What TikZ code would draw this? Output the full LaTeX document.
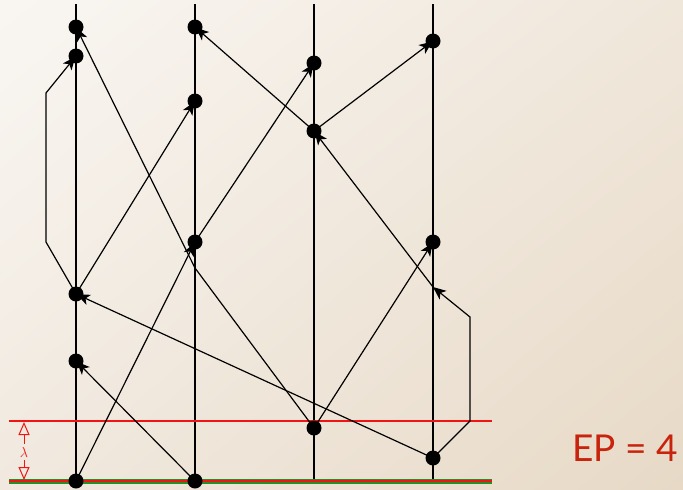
\documentclass[tikz,border=0pt]{standalone}
\usepackage{fontspec}
\newfontfamily\epfont{Lato}
\usetikzlibrary{arrows.meta,shadings}
\definecolor{bgUL}{RGB}{249,246,242}
\definecolor{bgUR}{RGB}{240,231,219}
\definecolor{bgLL}{RGB}{241,233,223}
\definecolor{bgLR}{RGB}{231,217,198}
\definecolor{eptext}{RGB}{200,35,12}
\definecolor{cutred}{RGB}{240,20,20}
\definecolor{cutgreen}{RGB}{40,140,40}
\begin{document}
\begin{tikzpicture}[x=1pt,y=-1pt,
  proc/.style={line width=1.3pt,black},
  msg/.style={line width=1.2pt,black,-{Stealth[length=13pt,width=11pt,inset=3.5pt]},shorten >=1pt},
  dot/.style={circle,fill=black,inner sep=0pt,minimum size=15pt},
  cutline/.style={line width=1.2pt,cutred},
  lamarrow/.style={line width=1pt,cutred,-{Triangle[open,length=13pt,width=11pt]}}]
\shade[upper left=bgUL,upper right=bgUR,lower left=bgLL,lower right=bgLR] (0,0) rectangle (683,490);
\useasboundingbox (0,0) rectangle (683,490);
% process lines
\foreach \n/\x in {p1/76,p2/195,p3/314,p4/433}{
  \coordinate (\n t) at (\x,4);
  \coordinate (\n b) at (\x,481);
  \draw[proc] (\n t) -- (\n b);
}
% cut lines
\coordinate (cl) at (9,421);
\coordinate (cr) at (492,421);
\coordinate (gl) at (9,481);
\coordinate (gr) at (492,481);
\draw[cutline] (cl) -- (cr);
\draw[line width=5pt,cutgreen] (gl) -- (gr);
\draw[line width=2.2pt,cutred] (gl) -- (gr);
% lambda marker
\node[text=cutred,inner sep=0pt,font=\fontsize{15}{15}\selectfont] (lam) at (24,452) {$\lambda$};
\coordinate (lamtop) at (24,422);
\coordinate (lambot) at (24,480);
\draw[lamarrow] (lam.north) ++(0,-3) coordinate (lamn) -- (lamtop);
\draw[lamarrow] (lam.south) ++(0,3) coordinate (lams) -- (lambot);
% events
\node[dot] (a1) at (76,27) {};
\node[dot] (a2) at (76,56) {};
\node[dot] (a3) at (76,294) {};
\node[dot] (a4) at (76,361) {};
\node[dot] (a5) at (76,481) {};
\node[dot] (b1) at (195,27) {};
\node[dot] (b2) at (195,101) {};
\node[dot] (b3) at (195,242) {};
\node[dot] (b4) at (195,481) {};
\node[dot] (c1) at (314,63) {};
\node[dot] (c2) at (314,131) {};
\node[dot] (c3) at (314,428) {};
\node[dot] (d1) at (433,41) {};
\node[dot] (d2) at (433,242) {};
\node[dot] (d3) at (433,458) {};
% bend points
\coordinate (k1) at (46,242);
\coordinate (k2) at (46,93);
\coordinate (k3) at (195,268);
\coordinate (k4) at (470,421);
\coordinate (k5) at (470,317);
\coordinate (e1) at (433,287);
% messages
\draw[msg] (a5.center) -- (b3.center);
\draw[msg] (b3.center) -- (c1.center);
\draw[msg] (b4.center) -- (a4.center);
\draw[msg] (a3.center) -- (b2.center);
\draw[msg] (a3.center) -- (k1) -- (k2) -- (a2.center);
\draw[msg] (c3.center) -- (k3) -- (a1.center);
\draw[msg] (c3.center) -- (d2.center);
\draw[msg] (d3.center) -- (a3.center);
\draw[msg,shorten >=0pt] (d3.center) -- (k4) -- (k5) -- (e1);
\draw[msg] (e1) -- (c2.center);
\draw[msg] (c2.center) -- (d1.center);
\draw[msg] (c2.center) -- (b1.center);
% label
\node[text=eptext,font=\epfont\fontsize{37}{37}\selectfont,inner sep=0pt] (ep) at (625,448) {EP = 4};
\end{tikzpicture}
\end{document}
